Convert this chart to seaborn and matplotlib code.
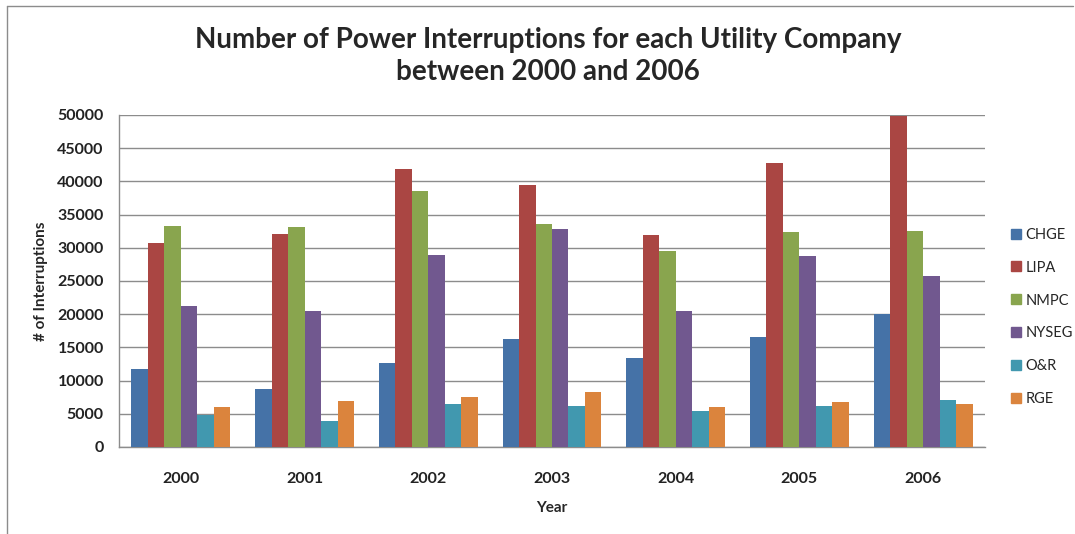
import matplotlib
matplotlib.use("Agg")
import matplotlib.pyplot as plt
import seaborn as sns
import pandas as pd
from matplotlib.lines import Line2D

years = ["2000", "2001", "2002", "2003", "2004", "2005", "2006"]
companies = ["CHGE", "LIPA", "NMPC", "NYSEG", "O&R", "RGE"]
chge = [11800, 8700, 12700, 16200, 13400, 16500, 20000]
lipa = [30700, 32100, 41900, 39400, 31900, 42800, 49900]
nmpc = [33300, 33100, 38500, 33600, 29500, 32400, 32500]
nyseg = [21200, 20450, 28850, 32800, 20450, 28750, 25700]
onr = [4870, 3950, 6550, 6250, 5350, 6150, 7050]
rge = [6000, 6900, 7500, 8250, 6000, 6750, 6450]
colors = ["#4572A7", "#AA4643", "#89A54E", "#71588F", "#4198AF", "#DB843D"]

series = [chge, lipa, nmpc, nyseg, onr, rge]
rows = []
for comp, vals in zip(companies, series):
    for y, v in zip(years, vals):
        rows.append({"Year": y, "Company": comp, "Value": v})
df = pd.DataFrame(rows)

sns.set_style("white")
plt.rcParams["font.family"] = ["Lato", "DejaVu Sans"]

fig = plt.figure(figsize=(10.75, 5.34), dpi=100)
ax = fig.add_axes([119/1075, 1-447/534, (985-119)/1075, (447-115)/534])

sns.barplot(data=df, x="Year", y="Value", hue="Company", order=years,
            hue_order=companies, palette=colors, width=0.8, saturation=1,
            errorbar=None, ax=ax, legend=False, zorder=3)
for p in ax.patches:
    p.set_edgecolor("none")

ax.set_ylim(0, 50000)
ax.set_yticks(range(0, 50001, 5000))
ax.set_yticklabels([str(v) for v in range(0, 50001, 5000)], fontsize=11.5)
ax.yaxis.grid(True, color="#8c8c8c", linewidth=1, zorder=0)
ax.set_axisbelow(True)
for s in ["top", "right"]:
    ax.spines[s].set_visible(False)
for s in ["left", "bottom"]:
    ax.spines[s].set_color("#8c8c8c")
    ax.spines[s].set_linewidth(1)
ax.tick_params(axis="y", length=0, pad=11)
ax.tick_params(axis="x", length=0, pad=18, labelsize=11.5)
for t in ax.get_xticklabels() + ax.get_yticklabels():
    t.set_fontweight("bold")
    t.set_color("#222222")

ax.set_xlabel("Year", fontsize=11, fontweight="bold", labelpad=11)
ax.set_ylabel("# of Interruptions", fontsize=11, fontweight="bold", labelpad=7)

fig.text(548/1075, 1-40/534, "Number of Power Interruptions for each Utility Company",
         ha="center", va="center", fontsize=20, fontweight="bold")
fig.text(548/1075, 1-72/534, "between 2000 and 2006",
         ha="center", va="center", fontsize=20, fontweight="bold")

handles = [Line2D([0], [0], marker="s", linestyle="none", markersize=7,
                  markerfacecolor=c, markeredgecolor=c) for c in colors]
fig.legend(handles, companies, loc="center left",
           bbox_to_anchor=(1006/1075, 1-317/534), frameon=False,
           fontsize=10.5, labelspacing=1.3, handletextpad=0.15,
           handlelength=1.0, borderpad=0.2, borderaxespad=0)

# outer chart border (top and left)
fig.add_artist(Line2D([7/1075, 1073/1075], [1-6/534, 1-6/534],
                      transform=fig.transFigure, color="#8c8c8c", linewidth=1))
fig.add_artist(Line2D([7/1075, 7/1075], [0, 1-6/534],
                      transform=fig.transFigure, color="#8c8c8c", linewidth=1))

fig.savefig("out.png", dpi=100)
